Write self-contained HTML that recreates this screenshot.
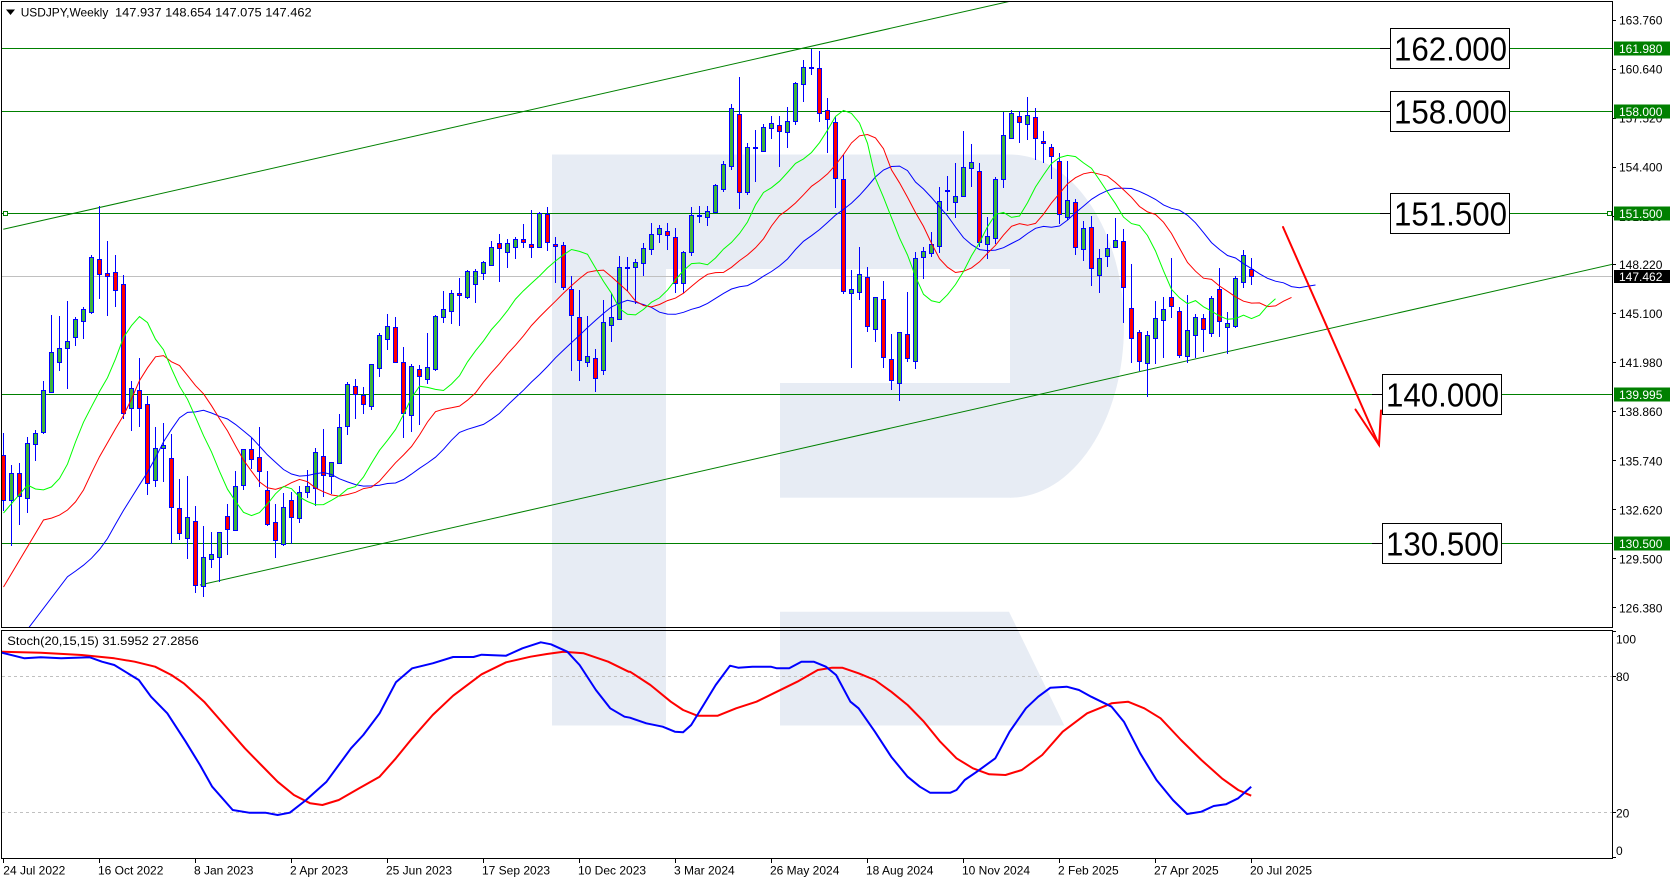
<!DOCTYPE html>
<html><head><meta charset="utf-8">
<style>
html,body{margin:0;padding:0;background:#fff;overflow:hidden;}
svg{display:block;font-family:"Liberation Sans",Arial,sans-serif;}
</style></head><body>
<svg id="c" width="1676" height="882" viewBox="0 0 1676 882" xmlns="http://www.w3.org/2000/svg">
<defs>
<clipPath id="mainClip"><rect x="2" y="2" width="1610" height="625"/></clipPath>
<clipPath id="stClip"><rect x="2" y="631" width="1610" height="227"/></clipPath>
</defs>
<rect width="1676" height="882" fill="#fff"/>
<!-- watermark -->
<g fill="#e7ecf4">
 <rect x="552" y="154.5" width="114" height="571"/>
 <rect x="666" y="154.5" width="344" height="114.5"/>
 <path d="M1010,154.5 A114,171.6 0 0 1 1010,497.7 Z"/>
 <rect x="780" y="383" width="230.5" height="114.7"/>
 <polygon points="780,611.7 1009,611.7 1064.3,725.5 780,725.5"/>
</g>
<!-- horizontal lines & trendlines -->
<g clip-path="url(#mainClip)" stroke-width="1" fill="none">
 <line x1="2" y1="276.5" x2="1612" y2="276.5" stroke="#c0c0c0"/>
 <line x1="2" y1="48.5" x2="1612" y2="48.5" stroke="#008000"/>
 <line x1="2" y1="111.5" x2="1612" y2="111.5" stroke="#008000"/>
 <line x1="2" y1="213.5" x2="1612" y2="213.5" stroke="#008000"/>
 <line x1="2" y1="394.5" x2="1612" y2="394.5" stroke="#008000"/>
 <line x1="2" y1="543.5" x2="1612" y2="543.5" stroke="#008000"/>
 <line x1="3.3" y1="229.3" x2="1020" y2="-1" stroke="#008000"/>
 <line x1="200" y1="585" x2="1612.7" y2="264.2" stroke="#008000"/>
 <line x1="1380" y1="48.5" x2="1391" y2="48.5" stroke="#000"/>
 <line x1="1380" y1="111.5" x2="1391" y2="111.5" stroke="#000"/>
 <line x1="1380" y1="213.5" x2="1391" y2="213.5" stroke="#000"/>
 <line x1="1372" y1="394.5" x2="1383" y2="394.5" stroke="#000"/>
 <line x1="1372" y1="543.5" x2="1383" y2="543.5" stroke="#000"/>
 <rect x="3.5" y="211.5" width="4" height="4" fill="#fff" stroke="#008000"/>
 <rect x="1607.5" y="211.5" width="4" height="4" fill="#fff" stroke="#008000"/>
</g>
<g id="candles" clip-path="url(#mainClip)"></g>
<g id="mas" clip-path="url(#mainClip)" fill="none" stroke-width="1"></g>
<!-- red arrow -->
<g stroke="#ff0000" stroke-width="2" fill="none" stroke-linecap="round">
 <line x1="1283" y1="227" x2="1379" y2="445"/>
 <polyline points="1355.5,409.5 1379,445 1381,410.5"/>
</g>
<!-- level boxes -->
<g font-size="33" fill="#000">
 <rect x="1390.5" y="28.5" width="119" height="40" fill="#fff" stroke="#000"/>
 <text x="1394" y="60.7" textLength="113" lengthAdjust="spacingAndGlyphs">162.000</text>
 <rect x="1390.5" y="91.5" width="119" height="40" fill="#fff" stroke="#000"/>
 <text x="1394" y="123.7" textLength="113" lengthAdjust="spacingAndGlyphs">158.000</text>
 <rect x="1390.5" y="193.5" width="119" height="40" fill="#fff" stroke="#000"/>
 <text x="1394" y="225.7" textLength="113" lengthAdjust="spacingAndGlyphs">151.500</text>
 <rect x="1382.5" y="374.5" width="119" height="40" fill="#fff" stroke="#000"/>
 <text x="1386" y="406.6" textLength="113" lengthAdjust="spacingAndGlyphs">140.000</text>
 <rect x="1382.5" y="523.5" width="119" height="40" fill="#fff" stroke="#000"/>
 <text x="1386" y="555.7" textLength="113" lengthAdjust="spacingAndGlyphs">130.500</text>
</g>
<!-- stochastic -->
<g clip-path="url(#stClip)">
 <line x1="2" y1="676.5" x2="1612" y2="676.5" stroke="#c0c0c0" stroke-dasharray="3,3"/>
 <line x1="2" y1="812.5" x2="1612" y2="812.5" stroke="#c0c0c0" stroke-dasharray="3,3"/>
 <g id="stoch" fill="none" stroke-width="2" stroke-linejoin="round"></g>
</g>
<!-- header -->
<polygon points="6,9.5 15,9.5 10.5,15" fill="#000"/>
<text x="20.7" y="16.7" font-size="12" textLength="87.6" lengthAdjust="spacingAndGlyphs">USDJPY,Weekly</text>
<text x="115" y="16.7" font-size="12" textLength="196.7" lengthAdjust="spacingAndGlyphs">147.937 148.654 147.075 147.462</text>
<text x="7.3" y="645" font-size="12" textLength="191.5" lengthAdjust="spacingAndGlyphs">Stoch(20,15,15) 31.5952 27.2856</text>
<!-- frames -->
<g fill="none" stroke="#000" stroke-width="1">
 <rect x="1.5" y="1.5" width="1611" height="626"/>
 <rect x="1.5" y="630.5" width="1611" height="228"/>
</g>
<!-- price axis -->
<g font-size="12" fill="#000" id="pax">
 <text x="1619" y="24.7">163.760</text>
 <text x="1619" y="73.6">160.640</text>
 <text x="1619" y="122.7">157.520</text>
 <text x="1619" y="171.7">154.400</text>
 <text x="1619" y="220.9">151.280</text>
 <text x="1619" y="268.9">148.220</text>
 <text x="1619" y="318">145.100</text>
 <text x="1619" y="367.1">141.980</text>
 <text x="1619" y="416.2">138.860</text>
 <text x="1619" y="465.3">135.740</text>
 <text x="1619" y="514.3">132.620</text>
 <text x="1619" y="563.4">129.500</text>
 <text x="1619" y="612.5">126.380</text>
</g>
<g stroke="#000" stroke-width="1">
 <line x1="1612" y1="20.5" x2="1616" y2="20.5"/>
 <line x1="1612" y1="69.5" x2="1616" y2="69.5"/>
 <line x1="1612" y1="118.5" x2="1616" y2="118.5"/>
 <line x1="1612" y1="167.5" x2="1616" y2="167.5"/>
 <line x1="1612" y1="216.5" x2="1616" y2="216.5"/>
 <line x1="1612" y1="264.5" x2="1616" y2="264.5"/>
 <line x1="1612" y1="313.5" x2="1616" y2="313.5"/>
 <line x1="1612" y1="362.5" x2="1616" y2="362.5"/>
 <line x1="1612" y1="411.5" x2="1616" y2="411.5"/>
 <line x1="1612" y1="460.5" x2="1616" y2="460.5"/>
 <line x1="1612" y1="509.5" x2="1616" y2="509.5"/>
 <line x1="1612" y1="558.5" x2="1616" y2="558.5"/>
 <line x1="1612" y1="607.5" x2="1616" y2="607.5"/>
 <line x1="1612" y1="631.5" x2="1616" y2="631.5"/>
 <line x1="1612" y1="676.5" x2="1616" y2="676.5"/>
 <line x1="1612" y1="812.5" x2="1616" y2="812.5"/>
 <line x1="1612" y1="857.5" x2="1616" y2="857.5"/>
</g>
<g font-size="12">
 <rect x="1614" y="41.5" width="56" height="14" fill="#008000"/>
 <text x="1619" y="53" fill="#fff">161.980</text>
 <rect x="1614" y="104.5" width="56" height="14" fill="#008000"/>
 <text x="1619" y="116" fill="#fff">158.000</text>
 <rect x="1614" y="206.5" width="56" height="14" fill="#008000"/>
 <text x="1619" y="218" fill="#fff">151.500</text>
 <rect x="1614" y="270" width="56" height="13" fill="#000"/>
 <text x="1619" y="281" fill="#fff">147.462</text>
 <rect x="1614" y="387.5" width="56" height="14" fill="#008000"/>
 <text x="1619" y="399" fill="#fff">139.995</text>
 <rect x="1614" y="536.5" width="56" height="14" fill="#008000"/>
 <text x="1619" y="548" fill="#fff">130.500</text>
</g>
<g font-size="12" fill="#000">
 <text x="1616" y="643.3">100</text>
 <text x="1616" y="681">80</text>
 <text x="1616" y="817.3">20</text>
 <text x="1616" y="855">0</text>
</g>
<!-- date axis -->
<g stroke="#000" stroke-width="1">
 <line x1="3.5" y1="858" x2="3.5" y2="863"/>
 <line x1="99.5" y1="858" x2="99.5" y2="863"/>
 <line x1="195.5" y1="858" x2="195.5" y2="863"/>
 <line x1="291.5" y1="858" x2="291.5" y2="863"/>
 <line x1="387.5" y1="858" x2="387.5" y2="863"/>
 <line x1="483.5" y1="858" x2="483.5" y2="863"/>
 <line x1="579.5" y1="858" x2="579.5" y2="863"/>
 <line x1="675.5" y1="858" x2="675.5" y2="863"/>
 <line x1="771.5" y1="858" x2="771.5" y2="863"/>
 <line x1="867.5" y1="858" x2="867.5" y2="863"/>
 <line x1="963.5" y1="858" x2="963.5" y2="863"/>
 <line x1="1059.5" y1="858" x2="1059.5" y2="863"/>
 <line x1="1155.5" y1="858" x2="1155.5" y2="863"/>
 <line x1="1251.5" y1="858" x2="1251.5" y2="863"/>
</g>
<g font-size="12" fill="#000">
 <text x="3.3" y="874.3">24 Jul 2022</text>
 <text x="98" y="874.3">16 Oct 2022</text>
 <text x="194" y="874.3">8 Jan 2023</text>
 <text x="290" y="874.3">2 Apr 2023</text>
 <text x="386" y="874.3">25 Jun 2023</text>
 <text x="482" y="874.3">17 Sep 2023</text>
 <text x="578" y="874.3">10 Dec 2023</text>
 <text x="674" y="874.3">3 Mar 2024</text>
 <text x="770" y="874.3">26 May 2024</text>
 <text x="866" y="874.3">18 Aug 2024</text>
 <text x="962" y="874.3">10 Nov 2024</text>
 <text x="1058" y="874.3">2 Feb 2025</text>
 <text x="1154" y="874.3">27 Apr 2025</text>
 <text x="1250" y="874.3">20 Jul 2025</text>
</g>
</svg>
<script>
(function(){
const NS="http://www.w3.org/2000/svg";
function el(tag,attrs,parent){const e=document.createElementNS(NS,tag);for(const k in attrs)e.setAttribute(k,attrs[k]);parent.appendChild(e);return e;}
const raw=[
[795,930,730,960],[930,850,825,1065],[848,918,820,1003],[925,760,742,965],[762,730,720,810],
[725,600,572,728],[607,487,375,607],[515,475,378,540],[475,453,333,595],[442,388,380,464],
[393,357,350,445],[365,202,195,368],[208,253,48,323],[250,258,153,375],[247,300,195,347],
[283,670,255,685],[655,595,573,720],[601,655,503,707],[643,880,617,912],[870,775,710,888],
[775,766,698,872],[805,952,733,1058],[955,1030,868,1048],[1045,982,858,1105],[993,1185,948,1205],
[1188,1102,1007,1218],[1108,1092,1027,1130],[1102,1027,1027,1172],[978,1018,942,1092],[1020,888,842,1020],
[886,778,778,898],[777,808,745,835],[802,843,712,888],[900,1003,843,1005],[997,1050,942,1102],
[1062,952,910,1065],[930,982,907,1058],[985,907,887,997],[905,888,840,920],[893,787,775,945],
[797,855,718,918],
[857,815,815,908],[818,710,672,818],[708,583,577,732],[587,612,567,685],[616,643,592,670],
[647,523,523,658],[535,436,430,557],[448,408,372,476],[412,515,381,515],[515,670,471,742],
[676,527,523,722],[536,558,525,703],[568,530,430,580],[537,378,375,540],[382,358,303,395],
[364,310,300,398],[310,316,264,404],[322,244,240,325],[283,244,236,335],[250,217,213,268],
[226,172,153,226],[160,175,132,272],[187,160,147,230],[172,148,140,203],[148,157,103,172],
[163,172,60,200],[172,70,67,172],[72,157,50,180],[162,169,140,275],[166,290,157,298],
[296,376,258,540],[382,511,300,570],[517,499,378,528],[503,565,477,602],[541,395,330,553],
[404,382,310,452],[388,230,198,388],[233,230,200,300],[232,216,207,338],[220,175,158,254],
[628,583,548,643],[583,565,555,607],[572,586,548,628],[590,730,565,757],[730,637,632,757],
[637,526,502,645],[528,524,498,545],[530,514,497,555],[517,436,432,517],[448,373,362,452],
[377,203,192,387],[223,457,112,505],[455,320,310,462],[324,322,270,422],[332,262,253,332],
[265,250,228,293],[256,274,228,377],[277,244,200,322],[243,130,127,253],[133,80,60,182],
[84,82,28,103],[85,220,33,243],[211,237,175,337],[247,413,230,500],[418,753,345,760],
[760,748,690,982],[757,703,622,777],[710,857,682,872],[867,770,770,903],[778,952,722,980],
[958,1020,882,1048],[1028,877,877,1080],[883,955,757,962],[962,655,635,985],[652,632,622,715],
[640,613,577,647],[617,482,440,635],[453,451,408,510],[485,468,368,532],[468,382,272,468],
[265,247,192,318],[273,487,250,497],[493,468,410,535],[475,298,292,488],[298,165,95,322],
[175,100,90,175],[108,127,92,187],[132,105,50,178],[112,175,85,238],[182,190,153,247],
[202,227,193,295],[243,402,220,428],[412,360,243,418],[367,502,357,522],[508,445,422,540],
[442,565,408,615],[585,535,508,635],[528,505,462,557],[502,481,415,502],[484,620,448,727],
[685,775,552,845],[757,843,750,870],[848,766,752,948],[775,715,662,850],[720,688,652,832],
[652,677,535,712],[693,825,682,830],[827,750,645,845],[766,712,702,830],[715,748,702,812],
[760,655,648,768],[628,723,563,767],[740,730,695,818],[737,595,588,742],[605,525,510,620],
[568,588,533,612]
];
function off(i){return i<=80?190:(i<=120?40:80);}
const bars=raw.map((r,i)=>{const f=off(i);return {o:f+r[0]/3,c:f+r[1]/3,h:f+r[2]/3,l:f+r[3]/3};});
const gC=document.getElementById('candles');
bars.forEach((b,i)=>{
 const cx=3.5+8*i;
 el('line',{x1:cx,y1:Math.round(b.h),x2:cx,y2:Math.round(b.l)+1,stroke:'#0000ff','stroke-width':1},gC);
 const top=Math.round(Math.min(b.o,b.c)), bot=Math.round(Math.max(b.o,b.c));
 const bull=b.c<b.o;
 if(bot-top<1){
   el('line',{x1:cx-2.5,y1:top+0.5,x2:cx+2.5,y2:top+0.5,stroke:'#0000ff','stroke-width':1},gC);
 } else {
   el('rect',{x:cx-2,y:top+0.5,width:4,height:bot-top,fill:bull?'#3cb43c':'#ff0000',stroke:'#0000ff','stroke-width':1},gC);
 }
});
const med=bars.map(b=>(b.h+b.l)/2);
function smma(N,seed){let s=seed;return med.map(m=>(s=(s*(N-1)+m)/N));}
const gM=document.getElementById('mas');
function maLine(N,seed,shift,left,color){
 const v=smma(N,seed);const pts=[[3.5,left]];
 v.forEach((y,i)=>pts.push([3.5+8*(i+shift),y]));
 el('polyline',{points:pts.map(p=>p[0].toFixed(1)+','+p[1].toFixed(1)).join(' '),stroke:color},gM);
}
maLine(13,585.4,8,661,'#0000ff');
maLine(8,526.9,5,587,'#ff0000');
maLine(5,488.3,3,513,'#00ff00');

const b8=[[8,83],[60,100],[100,97],[150,100],[220,97],[250,110],[280,120],[340,165],[370,215],[410,265],[455,350],[490,420],[520,485],[570,555],[610,563],[650,563],[680,570],[710,563],[750,525],[800,470],[860,370],[890,330],[930,265],[970,172],[1010,130],[1060,115],[1110,96],[1160,96],[1180,89],[1240,92],[1280,70],[1325,52],[1350,58],[1390,80],[1420,120],[1460,195],[1495,250],[1530,275]];
const b9=[[0,278],[40,295],[80,305],[110,320],[130,322],[150,300],[180,240],[210,180],[245,122],[265,128],[300,125],[345,125],[360,130],[390,130],[420,110],[450,110],[480,125],[505,150],[540,230],[560,250],[600,320],[640,395],[680,455],[710,485],[735,503],[785,503],[800,495],[820,465],[850,440],[895,400],[930,320],[970,250],[1000,215],[1030,188],[1070,185],[1100,195],[1130,215],[1180,245],[1210,290],[1250,385],[1290,465],[1330,525],[1365,567],[1400,560],[1430,543],[1460,538],[1490,520],[1522,485]];
const r8=[[8,80],[100,83],[200,90],[280,100],[330,110],[380,125],[420,150],[450,175],[500,230],[550,300],[600,370],[640,420],[680,470],[720,510],[760,535],[790,540],[830,525],[880,490],[930,455],[970,400],[1010,340],[1060,270],[1110,212],[1180,148],[1240,112],[1300,95],[1340,87],[1380,80],[1430,85],[1490,110],[1540,140]];
const r9=[[0,140],[50,180],[100,230],[130,255],[165,272],[215,272],[260,250],[310,230],[360,200],[410,170],[460,135],[495,128],[520,128],[560,145],[600,165],[640,200],[680,240],[720,290],[760,350],[800,400],[840,430],[880,448],[920,450],[960,435],[1010,390],[1060,320],[1120,265],[1180,235],[1220,230],[1260,250],[1300,280],[1350,345],[1400,405],[1450,460],[1490,495],[1522,512]];
function conv(a,xo){return a.map(p=>[xo+p[0]/2.45,625+p[1]/3]);}
const gS=document.getElementById('stoch');
function sl(a,b,color){
 const pts=conv(a,0).filter(p=>p[0]<629).concat(conv(b,630));
 pts[0][0]=2;
 el('polyline',{points:pts.map(p=>p[0].toFixed(1)+','+p[1].toFixed(1)).join(' '),stroke:color},gS);
}
sl(r8,r9,'#ff0000');
sl(b8,b9,'#0000ff');
})();
</script>
</body></html>
